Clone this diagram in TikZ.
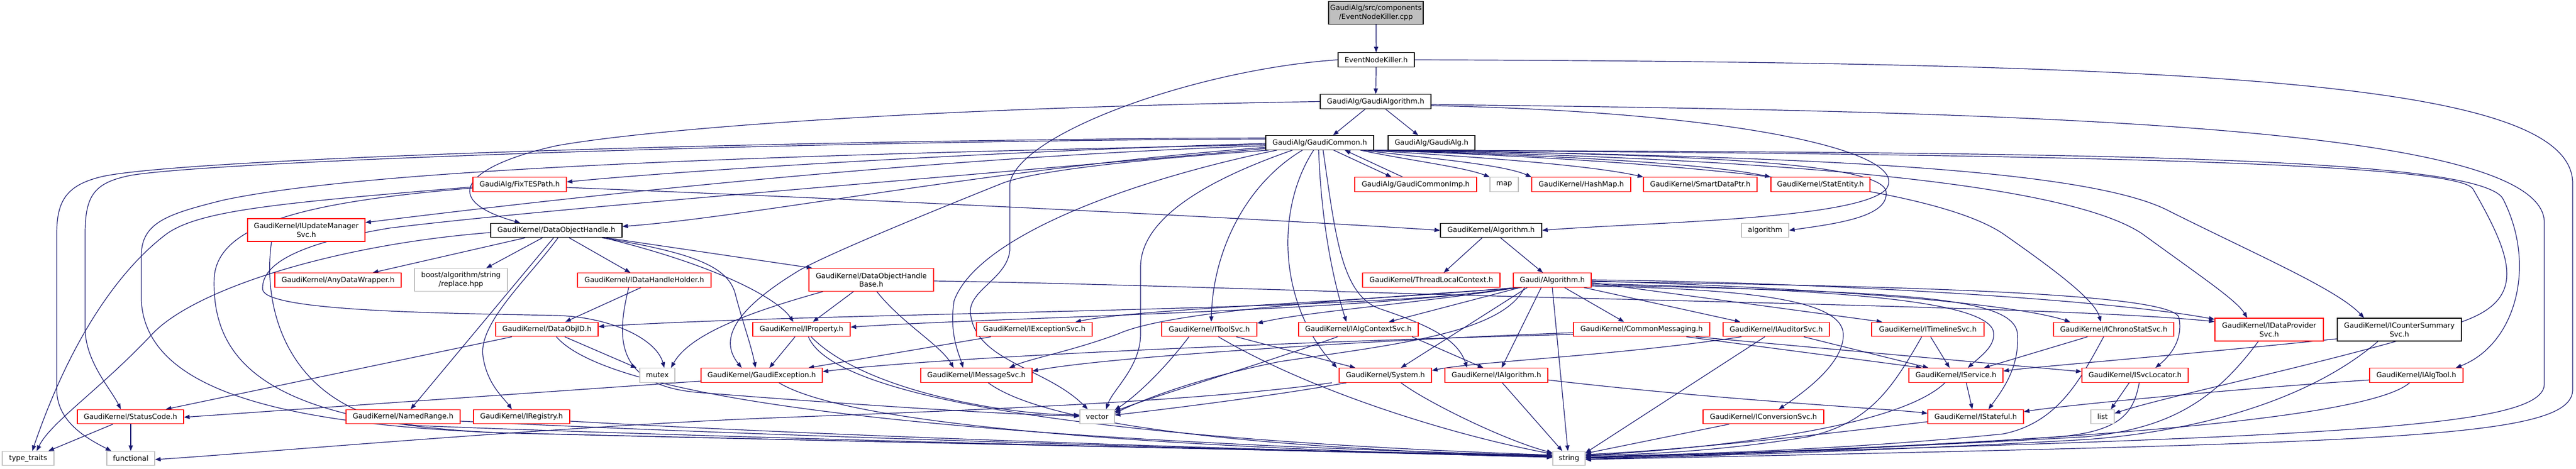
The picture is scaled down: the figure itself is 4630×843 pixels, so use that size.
\documentclass[tikz,border=0pt]{standalone}
\usepackage{fontspec}
\setmainfont{DejaVu Sans}
\usetikzlibrary{arrows.meta}
\definecolor{edgec}{HTML}{191970}
\definecolor{redb}{HTML}{FF0000}
\definecolor{grayb}{HTML}{BFBFBF}
\pgfdeclarelayer{bg}
\pgfsetlayers{bg,main}
\begin{document}
\begin{tikzpicture}[x=1pt,y=-1pt,
 base/.style={rectangle, inner xsep=1pt, inner ysep=1pt, minimum height=25.5pt, line width=1.3pt, font=\fontsize{12.8}{15.5}\selectfont, align=center, fill=white},
 rn/.style={base, draw=redb},
 bn/.style={base, draw=black},
 gn/.style={base, draw=grayb},
 tl/.style={minimum height=41pt},
 e/.style={draw=edgec, line width=1.2pt, -{Triangle[length=10pt,width=7.5pt]}}]
\useasboundingbox (0,0) rectangle (4630,843);
% row 0-3
\node[bn, tl, fill=grayb, minimum width=170pt] (cpp) at (2473,23) {GaudiAlg/src/components\\/EventNodeKiller.cpp};
\node[bn, minimum width=137pt] (enk) at (2473.5,107.5) {EventNodeKiller.h};
\node[bn, minimum width=199pt] (galgo) at (2472.5,182.5) {GaudiAlg/GaudiAlgorithm.h};
\node[bn, minimum width=194pt] (gcommon) at (2372,256.5) {GaudiAlg/GaudiCommon.h};
\node[bn, minimum width=156pt] (galg) at (2573,256.5) {GaudiAlg/GaudiAlg.h};
% row 4
\node[rn, minimum width=168pt] (fixtes) at (934,331.5) {GaudiAlg/FixTESPath.h};
\node[rn, minimum width=219pt] (gcimp) at (2544.5,331.5) {GaudiAlg/GaudiCommonImp.h};
\node[gn, minimum width=51pt] (map) at (2703.5,331.5) {map};
\node[rn, minimum width=178pt] (hashmap) at (2842,331.5) {GaudiKernel/HashMap.h};
\node[rn, minimum width=204pt] (smartdp) at (3056,331.5) {GaudiKernel/SmartDataPtr.h};
\node[rn, minimum width=178pt] (statent) at (3272,331.5) {GaudiKernel/StatEntity.h};
% row 5
\node[rn, tl, minimum width=211pt] (iupd) at (550.5,413.5) {GaudiKernel/IUpdateManager\\Svc.h};
\node[bn, minimum width=236pt] (doh) at (1000,414) {GaudiKernel/DataObjectHandle.h};
\node[bn, minimum width=182pt] (kalgo) at (2680,414) {GaudiKernel/Algorithm.h};
\node[gn, minimum width=85pt] (algorithm) at (3172.5,414) {algorithm};
% row 6
\node[rn, minimum width=227pt] (anydw) at (607.5,503.5) {GaudiKernel/AnyDataWrapper.h};
\node[gn, tl, minimum width=167pt] (boost) at (828.5,503) {boost/algorithm/string\\/replace.hpp};
\node[rn, minimum width=240pt] (idhh) at (1158,503.5) {GaudiKernel/IDataHandleHolder.h};
\node[rn, tl, minimum width=224pt] (dohb) at (1566,503) {GaudiKernel/DataObjectHandle\\Base.h};
\node[rn, minimum width=247pt] (tlc) at (2572.5,503.5) {GaudiKernel/ThreadLocalContext.h};
\node[rn, minimum width=140pt] (galgorithm) at (2790,503.5) {Gaudi/Algorithm.h};
% row 7
\node[rn, minimum width=184pt] (dataobjid) at (983,592) {GaudiKernel/DataObjID.h};
\node[rn, minimum width=175pt] (iprop) at (1440.5,592) {GaudiKernel/IProperty.h};
\node[rn, minimum width=208pt] (iexc) at (1859,592) {GaudiKernel/IExceptionSvc.h};
\node[rn, minimum width=171pt] (itool) at (2173.5,592) {GaudiKernel/IToolSvc.h};
\node[rn, minimum width=215pt] (ialgctx) at (2441.5,592) {GaudiKernel/IAlgContextSvc.h};
\node[rn, minimum width=245pt] (commsg) at (2950.5,592) {GaudiKernel/CommonMessaging.h};
\node[rn, minimum width=191pt] (iaud) at (3192.5,592) {GaudiKernel/IAuditorSvc.h};
\node[rn, minimum width=202pt] (itime) at (3465,592) {GaudiKernel/ITimelineSvc.h};
\node[rn, minimum width=216pt] (ichrono) at (3799,592) {GaudiKernel/IChronoStatSvc.h};
\node[rn, tl, minimum width=195pt] (idp) at (4078.5,592.5) {GaudiKernel/IDataProvider\\Svc.h};
\node[bn, tl, minimum width=223pt] (icsum) at (4312.5,592.5) {GaudiKernel/ICounterSummary\\Svc.h};
% row 8
\node[gn, minimum width=63pt] (mutex) at (1181.5,674.5) {mutex};
\node[rn, minimum width=218pt] (gexc) at (1369,674.5) {GaudiKernel/GaudiException.h};
\node[rn, minimum width=200pt] (imsg) at (1755,674.5) {GaudiKernel/IMessageSvc.h};
\node[rn, minimum width=166pt] (system) at (2490,674.5) {GaudiKernel/System.h};
\node[rn, minimum width=185pt] (ialgo) at (2689.5,674.5) {GaudiKernel/IAlgorithm.h};
\node[rn, minimum width=169pt] (iserv) at (3515.5,674.5) {GaudiKernel/IService.h};
\node[rn, minimum width=191pt] (isvcl) at (3837.5,674.5) {GaudiKernel/ISvcLocator.h};
\node[rn, minimum width=168pt] (ialgtool) at (4343,674.5) {GaudiKernel/IAlgTool.h};
% row 9
\node[rn, minimum width=191pt] (statuscode) at (234.5,749) {GaudiKernel/StatusCode.h};
\node[rn, minimum width=205pt] (namedrange) at (724.5,749) {GaudiKernel/NamedRange.h};
\node[rn, minimum width=173pt] (iregistry) at (937.5,749) {GaudiKernel/IRegistry.h};
\node[gn, minimum width=62pt] (vector) at (1972,749) {vector};
\node[rn, minimum width=217pt] (iconv) at (3169.5,749) {GaudiKernel/IConversionSvc.h};
\node[rn, minimum width=172pt] (istateful) at (3551,749) {GaudiKernel/IStateful.h};
\node[gn, minimum width=42pt] (list) at (3779,749) {list};
% row 10
\node[gn, minimum width=93pt] (typetraits) at (50.5,824) {type\_traits};
\node[gn, minimum width=86pt] (functional) at (235,824) {functional};
\node[gn, minimum width=58pt] (string) at (2820,824) {string};

\begin{pgfonlayer}{bg}
\draw[e] (cpp) -- (enk);
\draw[e] (enk) -- (galgo);
\draw[e] (enk.east) .. controls (4000,112) and (4624,150) .. (4624,330) -- (4624,700) .. controls (4624,790) and (4300,795) .. (string.east |- 0,826);
\draw[e] (enk.west) .. controls (2150,125) and (1830,240) .. (1815,330) -- (1815,450) .. controls (1810,500) and (1744,520) .. (1744,560) .. controls (1750,650) and (1880,660) .. (vector.north -| 1955,0);
% GaudiAlgorithm
\draw[e] (galgo.south -| 2454,0) -- (gcommon.north -| 2396,0);
\draw[e] (galgo.south -| 2490,0) -- (galg.north -| 2549,0);
\draw[e] (galgo.west) .. controls (1600,195) and (1150,235) .. (1000,262) .. controls (830,300) and (790,360) .. (doh.north -| 935,0);
\draw[e] (galgo.east |- 0,190) .. controls (3100,200) and (3440,270) .. (3390,340) .. controls (3340,395) and (2950,400) .. (kalgo.east);
\draw[e] (galgo.east |- 0,188) .. controls (3700,200) and (4573,230) .. (4573,400) -- (4573,690) .. controls (4573,770) and (4200,785) .. (string.east |- 0,822);
% GaudiCommon
\draw[e] (gcommon.south -| 2397,0) -- (gcimp.north -| 2501,0);
\draw[e] (gcimp.north -| 2521,0) -- (gcommon.south -| 2417,0);
\draw[e] (gcommon.west |- 0,258) .. controls (1900,268) and (1300,300) .. (fixtes.east |- 0,327);
\draw[e] (gcommon.west |- 0,262) .. controls (1600,285) and (900,370) .. (iupd.east |- 0,400);
\draw[e] (gcommon.west |- 0,265) .. controls (1800,300) and (1350,390) .. (doh.east |- 0,407);
\draw[e] (gcommon.west |- 0,250) .. controls (1500,252) and (400,288) .. (236,315) .. controls (170,328) and (153,350) .. (153,420) -- (153,590) .. controls (153,650) and (200,700) .. (statuscode.north -| 217,0);
\draw[e] (gcommon.west |- 0,248) .. controls (1500,250) and (350,282) .. (185,317) .. controls (120,332) and (102,360) .. (102,420) -- (102,700) .. controls (102,760) and (160,790) .. (functional.north -| 200,0);
\draw[e] (gcommon.west |- 0,260) .. controls (1600,275) and (700,295) .. (400,360) .. controls (300,385) and (254,400) .. (254,460) -- (254,540) .. controls (262,700) and (500,762) .. (900,778) .. controls (1800,800) and (2600,815) .. (string.west |- 0,818);
\draw[e] (gcommon.west |- 0,267) .. controls (1700,320) and (1000,373) .. (700,410) .. controls (520,440) and (470,480) .. (472,520) .. controls (475,560) and (800,563) .. (1000,567) .. controls (1100,570) and (1180,610) .. (mutex.north -| 1194,0);
\draw[e] (gcommon.south -| 2280,0) .. controls (2000,290) and (1850,310) .. (1800,330) .. controls (1600,410) and (1460,470) .. (1430,490) .. controls (1300,570) and (1300,620) .. (gexc.north -| 1333,0);
\draw[e] (gcommon.south -| 2295,0) .. controls (2050,320) and (1760,420) .. (1715,540) .. controls (1705,600) and (1725,640) .. (imsg.north -| 1731,0);
\draw[e] (gcommon.south -| 2445,0) .. controls (2530,288) and (2630,300) .. (map.north west);
\draw[e] (gcommon.south -| 2450,0) .. controls (2560,284) and (2700,295) .. (hashmap.north west);
\draw[e] (gcommon.south -| 2455,0) .. controls (2620,280) and (2850,295) .. (smartdp.north west);
\draw[e] (gcommon.south -| 2460,0) .. controls (2720,277) and (3050,290) .. (statent.north west);
\draw[e] (gcommon.south east) .. controls (3000,276) and (3385,290) .. (3390,345) .. controls (3395,390) and (3300,402) .. (algorithm.east);
\draw[e] (gcommon.south -| 2466,0) .. controls (2900,285) and (3450,320) .. (3600,420) .. controls (3700,490) and (3765,540) .. (ichrono.north -| 3776,0);
\draw[e] (gcommon.south -| 2464,0) .. controls (3100,282) and (3700,320) .. (3850,420) .. controls (3960,500) and (4020,540) .. (idp.north -| 4039,0);
\draw[e] (gcommon.south -| 2462,0) .. controls (3200,279) and (3750,300) .. (3900,380) .. controls (4060,460) and (4200,520) .. (icsum.north -| 4249,0);
\draw[e] (gcommon.south -| 2468,0) .. controls (3600,276) and (4420,290) .. (4445,340) .. controls (4520,470) and (4540,540) .. (4420,580) .. controls (4200,650) and (3900,710) .. (list.east |- 0,743);
\draw[e] (gcommon.south -| 2469,0) .. controls (3600,274) and (4470,275) .. (4500,360) .. controls (4560,480) and (4520,620) .. (ialgtool.north -| 4414,0);
\draw[e] (gcommon.south -| 2341,0) .. controls (2240,330) and (2180,450) .. (itool.north -| 2177,0);
\draw[e] (gcommon.south -| 2361,0) .. controls (2290,380) and (2300,550) .. (system.north -| 2403,0);
\draw[e] (gcommon.south -| 2370,0) .. controls (2375,400) and (2395,500) .. (ialgctx.north -| 2420,0);
\draw[e] (gcommon.south -| 2378,0) .. controls (2400,420) and (2410,530) .. (2480,555) .. controls (2570,585) and (2620,610) .. (ialgo.north -| 2637,0);
\draw[e] (gcommon.south -| 2323,0) .. controls (2150,330) and (2050,400) .. (2050,480) -- (2050,600) .. controls (2050,660) and (2000,700) .. (vector.north -| 1988,0);
% FixTESPath
\draw[e] (fixtes.east |- 0,337) .. controls (1600,360) and (2300,395) .. (kalgo.west);
\draw[e] (fixtes.west |- 0,336) .. controls (500,365) and (360,378) .. (300,420) .. controls (220,480) and (130,600) .. (typetraits.north -| 58,0);
\draw[e] (fixtes.west |- 0,338) .. controls (560,362) and (390,400) .. (385,500) .. controls (380,650) and (480,760) .. (900,778) .. controls (1800,800) and (2600,815) .. (string.west |- 0,820);
% IUpdateManagerSvc
\draw[e] (iupd.south -| 488,0) .. controls (470,560) and (520,740) .. (750,765) .. controls (1500,795) and (2600,815) .. (string.west |- 0,822);
% DataObjectHandle
\draw[e] (doh.south -| 944,0) -- (anydw.north -| 670,0);
\draw[e] (doh.south -| 975,0) -- (boost.north -| 874,0);
\draw[e] (doh.south -| 1023,0) -- (idhh.north -| 1133,0);
\draw[e] (doh.south -| 1090,0) -- (dohb.north -| 1460,0);
\draw[e] (doh.south -| 1085,0) .. controls (1300,480) and (1400,540) .. (iprop.north -| 1426,0);
\draw[e] (doh.south -| 995,0) -- (namedrange.north -| 738,0);
\draw[e] (doh.south -| 1003,0) .. controls (950,500) and (860,580) .. (868,640) .. controls (875,690) and (905,715) .. (iregistry.north -| 920,0);
\draw[e] (doh.south -| 1082,0) .. controls (1250,455) and (1310,480) .. (1322,530) .. controls (1335,580) and (1350,620) .. (gexc.north -| 1358,0);
\draw[e] (doh.west |- 0,418) .. controls (600,440) and (350,520) .. (274,600) .. controls (180,700) and (90,760) .. (typetraits.north -| 66,0);
% IDataHandleHolder
\draw[e] (idhh.south -| 1152,0) -- (dataobjid.north -| 1016,0);
\draw[e] (idhh.south -| 1130,0) .. controls (1110,600) and (1100,690) .. (1250,705) .. controls (1500,725) and (1800,745) .. (vector.west |- 0,748);
% DataObjectHandleBase
\draw[e] (dohb.south -| 1534,0) -- (iprop.north -| 1461,0);
\draw[e] (dohb.south -| 1479,0) .. controls (1350,560) and (1240,600) .. (mutex.north -| 1206,0);
\draw[e] (dohb.east |- 0,505) .. controls (2000,510) and (2400,525) .. (2800,535) .. controls (3400,550) and (3800,560) .. (idp.west |- 0,578);
\draw[e] (dohb.south -| 1576,0) .. controls (1620,580) and (1690,620) .. (imsg.north -| 1714,0);
% GaudiKernel/Algorithm
\draw[e] (kalgo.south -| 2664,0) -- (tlc.north -| 2595,0);
\draw[e] (kalgo.south -| 2697,0) -- (galgorithm.north -| 2773,0);
% Gaudi/Algorithm
\draw[e] (galgorithm.south -| 2722,0) .. controls (2500,560) and (1500,560) .. (dataobjid.east |- 0,587);
\draw[e] (galgorithm.south -| 2724,0) .. controls (2450,560) and (1800,570) .. (iprop.east |- 0,588);
\draw[e] (galgorithm.south -| 2726,0) .. controls (2400,545) and (2050,555) .. (iexc.north -| 1933,0);
\draw[e] (galgorithm.south -| 2728,0) .. controls (2550,545) and (2350,560) .. (itool.east |- 0,581);
\draw[e] (galgorithm.south -| 2732,0) -- (ialgctx.north -| 2496,0);
\draw[e] (galgorithm.south -| 2812,0) -- (commsg.north -| 2919,0);
\draw[e] (galgorithm.south -| 2847,0) -- (iaud.north -| 3128,0);
\draw[e] (galgorithm.east |- 0,508) -- (itime.north -| 3383,0);
\draw[e] (galgorithm.east |- 0,505) .. controls (3200,515) and (3600,540) .. (ichrono.north -| 3721,0);
\draw[e] (galgorithm.east |- 0,503) .. controls (3300,508) and (3800,540) .. (idp.west |- 0,574);
\draw[e] (galgorithm.south -| 2735,0) .. controls (2400,540) and (2100,560) .. (2010,600) .. controls (1930,630) and (1850,645) .. (imsg.north -| 1814,0);
\draw[e] (galgorithm.south -| 2745,0) -- (system.north -| 2518,0);
\draw[e] (galgorithm.south -| 2770,0) -- (ialgo.north -| 2699,0);
\draw[e] (galgorithm.south -| 2790,0) -- (string.north -| 2818,0);
\draw[e] (galgorithm.south -| 2740,0) .. controls (2700,600) and (2500,620) .. (2300,650) .. controls (2150,680) and (2050,720) .. (vector.east |- 0,743);
\draw[e] (galgorithm.east |- 0,510) .. controls (3300,520) and (3560,540) .. (3582,593) .. controls (3590,620) and (3560,640) .. (iserv.north -| 3537,0);
\draw[e] (galgorithm.east |- 0,512) .. controls (3400,525) and (3620,530) .. (3626,600) .. controls (3630,660) and (3600,700) .. (istateful.north -| 3574,0);
\draw[e] (galgorithm.east |- 0,514) .. controls (3150,520) and (3310,540) .. (3313,600) .. controls (3315,650) and (3250,700) .. (iconv.north -| 3197,0);
\draw[e] (galgorithm.east |- 0,506) .. controls (3500,515) and (3900,530) .. (3916,570) .. controls (3925,610) and (3900,640) .. (isvcl.north -| 3874,0);
% CommonMessaging
\draw[e] (commsg.west |- 0,598) .. controls (2500,610) and (2000,640) .. (imsg.east |- 0,667);
\draw[e] (commsg.west |- 0,601) .. controls (2400,612) and (1700,640) .. (gexc.east |- 0,668);
\draw[e] (commsg.south -| 3031,0) -- (iserv.north -| 3454,0);
\draw[e] (commsg.south -| 3048,0) -- (isvcl.west |- 0,668);
% IAuditorSvc
\draw[e] (iaud.south -| 3242,0) -- (iserv.north -| 3466,0);
\draw[e] (iaud.south -| 3172,0) -- (string.east |- 0,814);
\draw[e] (iaud.south -| 3130,0) .. controls (2900,640) and (2650,650) .. (system.east |- 0,666);
% ITimelineSvc, IChronoStatSvc
\draw[e] (itime.south -| 3470,0) -- (iserv.north -| 3504,0);
\draw[e] (itime.south -| 3454,0) .. controls (3400,700) and (3360,760) .. (3250,785) .. controls (3100,810) and (2950,818) .. (string.east |- 0,818);
\draw[e] (ichrono.south -| 3752,0) -- (iserv.north -| 3566,0);
\draw[e] (ichrono.south -| 3781,0) .. controls (3740,680) and (3700,760) .. (3600,780) .. controls (3300,810) and (3000,818) .. (string.east |- 0,820);
% IDataProviderSvc, ICounterSummarySvc, IAlgTool
\draw[e] (idp.south -| 4059,0) .. controls (3980,720) and (3900,770) .. (3750,785) .. controls (3400,805) and (3000,820) .. (string.east |- 0,822);
\draw[e] (icsum.west |- 0,609) .. controls (3900,640) and (3650,660) .. (iserv.east |- 0,667);
\draw[e] (icsum.south -| 4274,0) .. controls (4150,720) and (3950,775) .. (3750,790) .. controls (3400,810) and (3000,822) .. (string.east |- 0,824);
\draw[e] (ialgtool.west |- 0,683) .. controls (4000,700) and (3700,730) .. (istateful.east |- 0,740);
\draw[e] (ialgtool.south -| 4331,0) .. controls (4250,760) and (3600,800) .. (string.east |- 0,826);
% ISvcLocator, IService, IStateful, IConversionSvc, IAlgorithm
\draw[e] (isvcl.south -| 3827,0) -- (list.north -| 3794,0);
\draw[e] (isvcl.south -| 3845,0) .. controls (3835,740) and (3815,775) .. (3700,785) .. controls (3400,805) and (3000,820) .. (string.east |- 0,823);
\draw[e] (iserv.south -| 3534,0) -- (istateful.north -| 3545,0);
\draw[e] (iserv.south -| 3496,0) .. controls (3400,780) and (3000,810) .. (string.east |- 0,819);
\draw[e] (istateful.west |- 0,758) .. controls (3200,790) and (3000,810) .. (string.east |- 0,817);
\draw[e] (iconv.south -| 3108,0) -- (string.east |- 0,815);
\draw[e] (ialgo.east |- 0,683) .. controls (3100,720) and (3400,735) .. (istateful.west |- 0,743);
\draw[e] (ialgo.south -| 2700,0) -- (string.north -| 2808,0);
% System, IAlgContextSvc, IToolSvc
\draw[e] (system.south -| 2420,0) .. controls (2300,710) and (2100,735) .. (vector.east |- 0,746);
\draw[e] (system.south -| 2518,0) .. controls (2560,720) and (2700,790) .. (string.west |- 0,814);
\draw[e] (system.south -| 2394,0) .. controls (2100,730) and (1500,745) .. (1300,755) .. controls (900,775) and (450,815) .. (functional.east |- 0,826);
\draw[e] (ialgctx.south -| 2538,0) -- (ialgo.north -| 2666,0);
\draw[e] (ialgctx.south -| 2404,0) .. controls (2250,660) and (2050,720) .. (vector.east |- 0,740);
\draw[e] (itool.south -| 2222,0) -- (system.north -| 2436,0);
\draw[e] (itool.south -| 2137,0) .. controls (2080,680) and (2030,720) .. (vector.east |- 0,737);
\draw[e] (itool.south -| 2190,0) .. controls (2350,700) and (2600,780) .. (string.west |- 0,816);
% IExceptionSvc, IMessageSvc, GaudiException, IProperty
\draw[e] (iexc.south -| 1781,0) -- (gexc.north -| 1453,0);
\draw[e] (imsg.south -| 1776,0) .. controls (1900,780) and (2400,810) .. (string.west |- 0,820);
\draw[e] (gexc.west |- 0,685) -- (statuscode.east |- 0,750);
\draw[e] (gexc.south -| 1400,0) .. controls (1550,780) and (2300,810) .. (string.west |- 0,822);
\draw[e] (iprop.south -| 1429,0) -- (gexc.north -| 1383,0);
\draw[e] (iprop.south -| 1453,0) .. controls (1500,720) and (2000,790) .. (string.west |- 0,818);
\draw[e] (iprop.south -| 1458,0) .. controls (1550,700) and (1800,745) .. (vector.west |- 0,746);
% DataObjID and below
\draw[e] (dataobjid.south -| 1015,0) -- (mutex.north -| 1144,0);
\draw[e] (dataobjid.south -| 920,0) -- (statuscode.north -| 298,0);
\draw[e] (dataobjid.south -| 1000,0) .. controls (1100,720) and (1700,790) .. (string.west |- 0,819);
\draw[e] (namedrange.east |- 0,757) .. controls (1500,790) and (2500,815) .. (string.west |- 0,821);
\draw[e] (iregistry.east |- 0,757) .. controls (1600,790) and (2500,815) .. (string.west |- 0,821);
\draw[e] (statuscode.south -| 203,0) -- (typetraits.north -| 87,0);
\draw[e] (statuscode.south -| 235,0) -- (functional.north -| 235,0);
\end{pgfonlayer}
\end{tikzpicture}
\end{document}
